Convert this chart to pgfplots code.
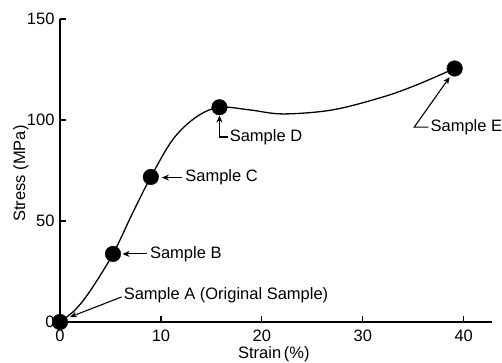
\documentclass[border=0pt]{standalone}
\usepackage{fontspec}
\setmainfont{Liberation Sans}
\usepackage{pgfplots}
\pgfplotsset{compat=1.18}
\usetikzlibrary{arrows.meta}
\begin{document}
\begin{tikzpicture}
\path[use as bounding box] (-60pt,-41pt) rectangle (442pt,322pt);
\begin{axis}[
  at={(0,0)}, anchor=south west,
  scale only axis, width=432pt, height=303pt,
  xmin=0, xmax=42.8, ymin=0, ymax=150,
  axis lines=left, axis line style={-, line width=1.4pt},
  tick align=inside, major tick length=6pt,
  tick style={line width=1.2pt, black},
  xtick={0,10,20,30,40}, ytick={0,50,100,150},
  clip=false,
  font=\fontsize{16.5}{18}\selectfont,
  /pgf/number format/assume math mode=true,
  xlabel={Strain\,(\%)}, ylabel={Stress (MPa)},
  xlabel style={at={(axis description cs:0.495,0)}, anchor=north, yshift=-21pt},
  ylabel style={at={(axis description cs:0,0.49)}, anchor=south, yshift=28pt},
  xticklabel style={yshift=-4pt},
  yticklabel style={xshift=-2pt},
]
\addplot[smooth, tension=0.55, line width=1.3pt, black] coordinates {
  (0,0) (1.5,6) (3,15.5) (5.25,33.7) (7.2,54) (9.0,71.8) (11.2,90.5)
  (13.5,101.5) (15.8,106.3) (18.8,105) (22.1,103) (27,105) (32,111.4)
  (35.3,117.3) (39.1,125.5)
};
\addplot[only marks, mark=*, mark size=7.8pt, black] coordinates {
  (0,0) (5.25,33.7) (9.0,71.8) (15.8,106.3) (39.1,125.5)
};
\draw[-{Stealth[length=7pt,width=6pt]}, line width=1.1pt] (axis cs:6.1,12.4) -- (axis cs:1.0,2.5);
\node[anchor=west, inner sep=1pt] at (axis cs:6.2,13.4) {Sample A (Original Sample)};
\draw[-{Stealth[length=7pt,width=6pt]}, line width=1.1pt] (axis cs:8.6,33.7) -- (axis cs:6.2,33.7);
\node[anchor=west, inner sep=1pt] at (axis cs:8.8,33.7) {Sample B};
\draw[-{Stealth[length=7pt,width=6pt]}, line width=1.1pt] (axis cs:12.1,71.5) -- (axis cs:10.1,71.5);
\node[anchor=west, inner sep=1pt] at (axis cs:12.3,71.5) {Sample C};
\draw[-{Stealth[length=7pt,width=6pt]}, line width=1.1pt] (axis cs:16.6,91.6) -- (axis cs:15.8,91.6) -- (axis cs:15.8,102.2);
\node[anchor=west, inner sep=1pt] at (axis cs:16.7,91.6) {Sample D};
\draw[-{Stealth[length=7pt,width=6pt]}, line width=1.1pt] (axis cs:36.5,96.5) -- (axis cs:35.1,96.5) -- (axis cs:38.6,121.2);
\node[anchor=west, inner sep=1pt] at (axis cs:36.6,96.5) {Sample E};
\end{axis}
\end{tikzpicture}
\end{document}
